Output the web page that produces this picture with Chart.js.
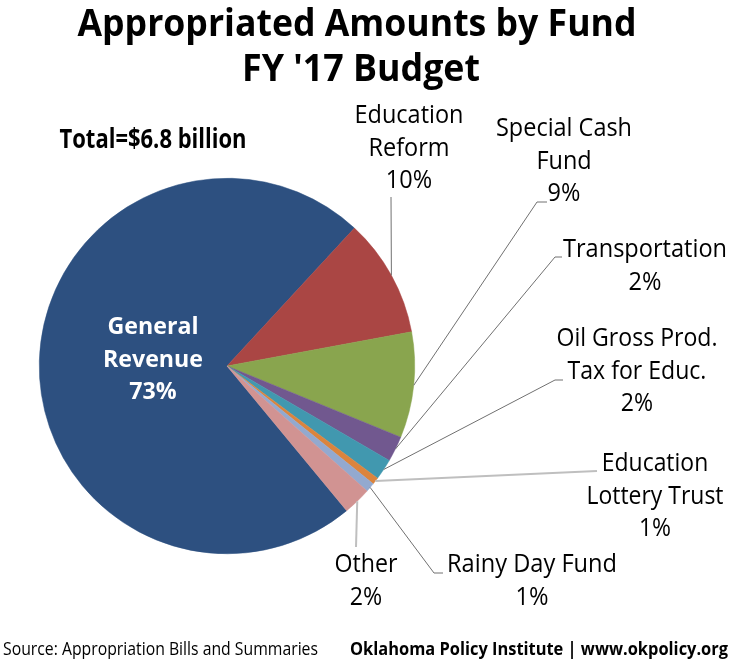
<!DOCTYPE html>
<html lang="en">
<head>
<meta charset="UTF-8">
<title>Appropriated Amounts by Fund FY '17 Budget</title>
<style>
  html, body { margin: 0; padding: 0; background: #fff; }
  canvas { display: block; }
</style>
</head>
<body>
<canvas id="fundPie" width="735" height="664"></canvas>

<script src="https://cdn.jsdelivr.net/npm/chart.js@4"></script>
<script>
// data (share of total, %)
const categories = ['General Revenue', 'Education Reform', 'Special Cash Fund', 'Transportation',
  'Oil Gross Prod. Tax for Educ.', 'Education Lottery Trust', 'Rainy Day Fund', 'Other'];
const shares = [72.8, 10.2, 9.1, 2.2, 1.8, 0.6, 0.8, 2.4];
const nameLines = [['General', 'Revenue'], ['Education', 'Reform'], ['Special Cash', 'Fund'],
  ['Transportation'], ['Oil Gross Prod.', 'Tax for Educ.'], ['Education', 'Lottery Trust'],
  ['Rainy Day Fund'], ['Other']];
const colors = ['#2D5080', '#AA4644', '#89A54E', '#71588F', '#4198AF', '#DB843D', '#93A9CF', '#D19392'];

const titleLines = ['Appropriated Amounts by Fund', "FY '17 Budget"];
const totalText = 'Total=$6.8 billion';
const sourceText = 'Source: Appropriation Bills and Summaries';
const creditText = 'Oklahoma Policy Institute | www.okpolicy.org';

// label layout: centre x, first baseline, width of widest line
const labelPos = [
  { x: 153, y: 334, w: 100 },
  { x: 409, y: 123, w: 109 },
  { x: 564, y: 136, w: 136 },
  { x: 645, y: 257, w: 164 },
  { x: 637, y: 346, w: 161 },
  { x: 655, y: 471, w: 137 },
  { x: 532, y: 572, w: 170 },
  { x: 366, y: 572, w: 63 }
];
// leader line bends (after the start point on the pie edge)
const leaders = [
  null,
  { pts: [[391, 197]], light: false },
  { pts: [[537, 202], [547, 202]], light: false },
  { pts: [[555, 257], [562, 257]], light: false },
  { pts: [[555, 380], [563, 380]], light: false },
  { pts: [[597, 471]], light: true },
  { pts: [[434, 573], [443, 573]], light: false },
  { pts: [[356, 547]], light: true }
];

function drawFit(ctx, text, x, y, w) {
  const m = ctx.measureText(text).width;
  const k = Math.min(1.15, w / m);
  ctx.save();
  ctx.translate(x, y);
  ctx.scale(k, 1);
  ctx.fillText(text, 0, 0);
  ctx.restore();
}

const labelsPlugin = {
  id: 'labels',
  afterDraw(chart) {
    const ctx = chart.ctx;
    const arcs = chart.getDatasetMeta(0).data;
    ctx.save();
    ctx.textAlign = 'center';
    ctx.textBaseline = 'alphabetic';

    // leader lines
    arcs.forEach((arc, i) => {
      const ld = leaders[i];
      if (!ld) return;
      const mid = (arc.startAngle + arc.endAngle) / 2;
      let sx = arc.x + Math.cos(mid) * arc.outerRadius;
      let sy = arc.y + Math.sin(mid) * arc.outerRadius;
      ctx.beginPath();
      ctx.strokeStyle = ld.light ? '#BFBFBF' : '#707070';
      ctx.lineWidth = ld.light ? 2 : 1;
      ctx.moveTo(sx, sy);
      ld.pts.forEach(p => ctx.lineTo(p[0], p[1]));
      ctx.stroke();
    });

    // slice labels
    arcs.forEach((arc, i) => {
      const pos = labelPos[i];
      const lines = nameLines[i].concat([Math.round(shares[i]) + '%']);
      if (i === 0) {
        ctx.fillStyle = '#FFFFFF';
        ctx.font = 'bold 23px "Open Sans"';
      } else {
        ctx.fillStyle = '#000000';
        ctx.font = '26px "Open Sans"';
      }
      let widest = lines.reduce((a, b) => ctx.measureText(b).width > ctx.measureText(a).width ? b : a);
      const k = pos.w / ctx.measureText(widest).width;
      lines.forEach((t, j) => {
        ctx.save();
        ctx.translate(pos.x, pos.y + j * 32.5);
        ctx.scale(k, 1);
        ctx.fillText(t, 0, 0);
        ctx.restore();
      });
    });

    // titles and notes
    ctx.fillStyle = '#000000';
    ctx.font = 'bold 37px "Open Sans"';
    drawFit(ctx, titleLines[0], 357, 36, 559);
    drawFit(ctx, titleLines[1], 361, 81, 238);
    ctx.font = 'bold 26px "Open Sans"';
    drawFit(ctx, totalText, 153, 148, 187);
    ctx.font = '18px "Open Sans"';
    drawFit(ctx, sourceText, 160.5, 655, 315);
    ctx.font = 'bold 18px "Open Sans"';
    drawFit(ctx, creditText, 539, 655, 378);
    ctx.restore();
  }
};

new Chart(document.getElementById('fundPie').getContext('2d'), {
  type: 'pie',
  data: {
    labels: categories,
    datasets: [{
      data: shares,
      backgroundColor: colors,
      borderColor: colors,
      borderWidth: 0.5
    }]
  },
  options: {
    responsive: false,
    animation: false,
    rotation: 140.4,
    layout: { padding: { left: 39, right: 320, top: 178, bottom: 110 } },
    plugins: {
      legend: { display: false },
      tooltip: { enabled: false },
      title: { display: false }
    }
  },
  plugins: [labelsPlugin]
});
</script>
</body>
</html>
